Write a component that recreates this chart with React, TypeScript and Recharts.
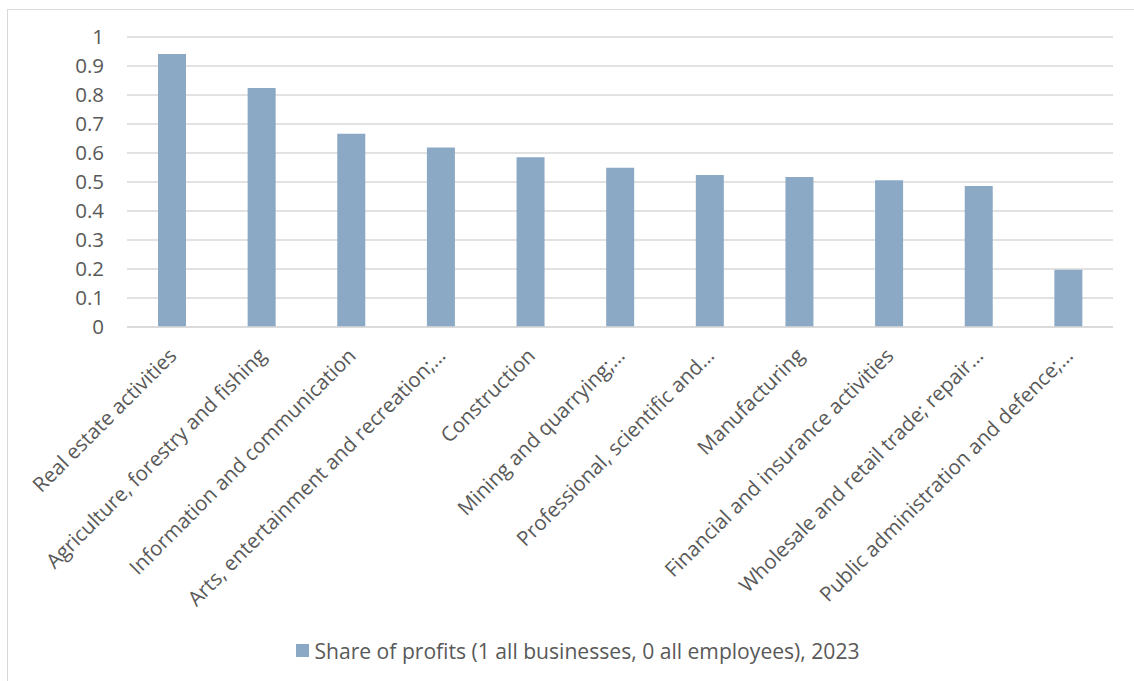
import React from 'react';
import { BarChart, Bar, XAxis, YAxis, CartesianGrid, Legend } from 'recharts';

const categories = [
  'Real estate activities',
  'Agriculture, forestry and fishing',
  'Information and communication',
  'Arts, entertainment and recreation;…',
  'Construction',
  'Mining and quarrying;…',
  'Professional, scientific and…',
  'Manufacturing',
  'Financial and insurance activities',
  'Wholesale and retail trade; repair…',
  'Public administration and defence;…',
];

const shareOfProfits = [0.941, 0.824, 0.666, 0.619, 0.585, 0.549, 0.524, 0.517, 0.506, 0.486, 0.197];

const yTicks = [0, 0.1, 0.2, 0.3, 0.4, 0.5, 0.6, 0.7, 0.8, 0.9, 1];

const seriesName = 'Share of profits (1 all businesses, 0 all employees), 2023';

const data = categories.map((name, i) => ({ name, share: shareOfProfits[i] }));

const FONT = '"Open Sans", sans-serif';
const TEXT = '#595959';
const BAR = '#8BA9C4';

const CategoryTick = (props: any) => {
  const { x, y, payload } = props;
  return (
    <g transform={`translate(${x + 6},${y + 30})`}>
      <text transform="rotate(-45)" textAnchor="end" fill={TEXT} fontSize={20.5} fontFamily={FONT}>
        {payload.value}
      </text>
    </g>
  );
};

const LegendBox = () => (
  <div
    style={{
      height: 30,
      display: 'flex',
      alignItems: 'center',
      justifyContent: 'center',
      paddingLeft: 43,
      fontFamily: FONT,
      fontSize: 21.1,
      color: TEXT,
    }}
  >
    <span style={{ width: 13, height: 13, background: BAR, marginRight: 5, display: 'inline-block' }} />
    <span>{seriesName}</span>
  </div>
);

export default function App() {
  return (
    <div
      style={{
        position: 'absolute',
        left: 0,
        top: 0,
        width: 1134,
        height: 681,
        overflow: 'hidden',
        background: '#fff',
      }}
    >
      <div
        style={{
          position: 'absolute',
          left: 7,
          top: 9,
          width: 1200,
          height: 800,
          border: '1px solid #d9d9d9',
        }}
      />
      <div style={{ position: 'absolute', left: 0, top: 0 }}>
        <BarChart
          width={1134}
          height={681}
          data={data}
          margin={{ top: 37, right: 21, left: 0, bottom: 16 }}
          barCategoryGap={0}
        >
          <CartesianGrid vertical={false} stroke="#d9d9d9" strokeWidth={1.3} />
          <XAxis
            dataKey="name"
            interval={0}
            height={308}
            tickLine={false}
            axisLine={{ stroke: '#d9d9d9', strokeWidth: 1.3 }}
            tickSize={0}
            tickMargin={0}
            tick={<CategoryTick />}
          />
          <YAxis
            domain={[0, 1]}
            ticks={yTicks}
            width={127}
            axisLine={false}
            tickLine={false}
            tickSize={0}
            tickMargin={23}
            tick={{ fill: TEXT, fontSize: 20.5, fontFamily: FONT }}
            tickFormatter={(v: number) => String(v)}
          />
          <Legend verticalAlign="bottom" content={<LegendBox />} />
          <Bar dataKey="share" name={seriesName} fill={BAR} barSize={28} isAnimationActive={false} />
        </BarChart>
      </div>
    </div>
  );
}
